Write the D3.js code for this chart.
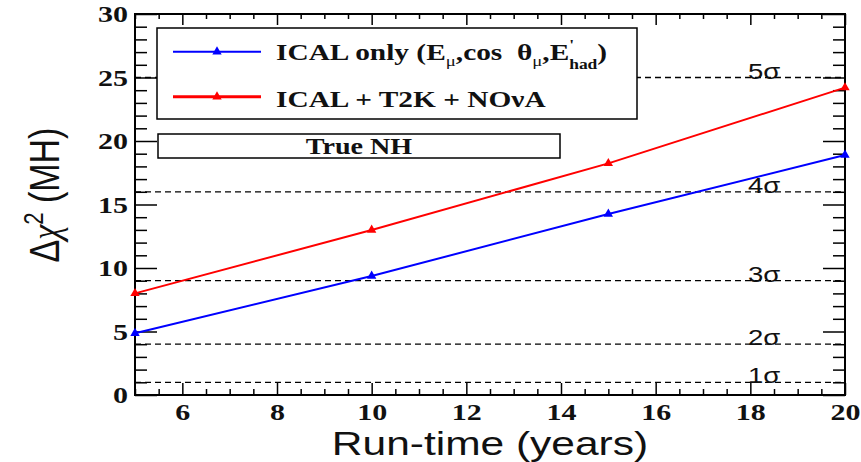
<!DOCTYPE html>
<html>
<head>
<meta charset="utf-8">
<title>Delta chi2 (MH) vs run-time</title>
<script src="https://d3js.org/d3.v7.min.js"></script>
<style>
  body { margin: 0; background: #fff; }
  .axis path { display: none; }
  .axis line { stroke: #000; stroke-width: 1.5; }
</style>
</head>
<body>
<svg id="chart" width="861" height="462"></svg>
<script>
// values
var runTime = [5, 10, 15, 20];
var icalOnly = [4.86, 9.37, 14.25, 18.9];
var icalT2kNova = [8.0, 12.99, 18.24, 24.2];
var sigmaLevels = [1, 2, 3, 4, 5];
var xTicks = [6, 8, 10, 12, 14, 16, 18, 20];
var yTicks = [0, 5, 10, 15, 20, 25, 30];
var seriesColors = ["#0000ff", "#ff0000"];

var m = {left: 135, right: 845, top: 14, bottom: 395};
var sx = 1.25; // the original is stretched sideways, so text is too

var svg = d3.select("#chart");

var x = d3.scaleLinear().domain([5, 20]).range([m.left, m.right]);
var y = d3.scaleLinear().domain([0, 30]).range([m.bottom, m.top]);

var xMinor = d3.range(5, 20.01, 0.5).filter(function(d){ return d % 2 !== 0; });
var yMinor = d3.range(0, 31, 1).filter(function(d){ return d % 5 !== 0; });

function tickFont(sel){
    sel.style("font-family", "'Liberation Serif', 'Times New Roman', serif")
       .style("font-weight", "bold")
       .style("font-size", "24px")
       .attr("fill", "#111");
}

// dashed n-sigma lines (delta chi2 = n^2)
svg.append("g").selectAll("line")
    .data(sigmaLevels)
    .enter().append("line")
    .attr("x1", x(5)).attr("x2", x(20))
    .attr("y1", function(d){ return y(d * d); })
    .attr("y2", function(d){ return y(d * d); })
    .attr("stroke", "#000")
    .attr("stroke-width", 1.3)
    .attr("stroke-dasharray", "6,4");

svg.append("g").selectAll("g")
    .data(sigmaLevels)
    .enter().append("g")
    .attr("transform", function(d){ return "translate(" + x(17.95) + "," + (y(d * d) + 1) + ") scale(" + sx + ",1)"; })
    .append("text")
    .style("font-family", "'Liberation Sans', Arial, sans-serif")
    .style("font-size", "22px")
    .attr("fill", "#111")
    .text(function(d){ return d + "σ"; });

// axes: bottom / left with labels, top / right without
var gx = svg.append("g").attr("class", "axis")
    .attr("transform", "translate(0," + m.bottom + ")")
    .call(d3.axisBottom(x).tickValues(xTicks).tickSize(-12).tickPadding(8));
gx.selectAll("text").call(tickFont).attr("transform", "scale(" + sx + ",1)");
svg.append("g").attr("class", "axis")
    .attr("transform", "translate(0," + m.bottom + ")")
    .call(d3.axisBottom(x).tickValues(xMinor).tickSize(-6).tickFormat(""));

svg.append("g").attr("class", "axis")
    .attr("transform", "translate(0," + m.top + ")")
    .call(d3.axisBottom(x).tickValues(xTicks).tickSize(11).tickFormat(""));
svg.append("g").attr("class", "axis")
    .attr("transform", "translate(0," + m.top + ")")
    .call(d3.axisBottom(x).tickValues(xMinor).tickSize(5).tickFormat(""));

var gy = svg.append("g").attr("class", "axis")
    .attr("transform", "translate(" + m.left + ",0)")
    .call(d3.axisLeft(y).tickValues(yTicks).tickSize(-22).tickPadding(7));
gy.selectAll("text").call(tickFont).attr("x", -7 / sx).attr("transform", "scale(" + sx + ",1)");
svg.append("g").attr("class", "axis")
    .attr("transform", "translate(" + m.left + ",0)")
    .call(d3.axisLeft(y).tickValues(yMinor).tickSize(-12).tickFormat(""));

svg.append("g").attr("class", "axis")
    .attr("transform", "translate(" + m.right + ",0)")
    .call(d3.axisRight(y).tickValues(yTicks).tickSize(-22).tickFormat(""));
svg.append("g").attr("class", "axis")
    .attr("transform", "translate(" + m.right + ",0)")
    .call(d3.axisRight(y).tickValues(yMinor).tickSize(-12).tickFormat(""));

// frame
svg.append("rect")
    .attr("x", m.left).attr("y", m.top)
    .attr("width", m.right - m.left).attr("height", m.bottom - m.top)
    .attr("fill", "none").attr("stroke", "#000").attr("stroke-width", 2);

// series
var line = d3.line()
    .x(function(d){ return x(d[0]); })
    .y(function(d){ return y(d[1]); });
var tri = d3.symbol().type(d3.symbolTriangle).size(38);

[icalOnly, icalT2kNova].forEach(function(vals, i){
    var pts = runTime.map(function(t, j){ return [t, vals[j]]; });
    svg.append("path")
        .datum(pts)
        .attr("d", line)
        .attr("fill", "none")
        .attr("stroke", seriesColors[i])
        .attr("stroke-width", 2);
    svg.append("g").selectAll("path")
        .data(pts)
        .enter().append("path")
        .attr("d", tri)
        .attr("transform", function(d){ return "translate(" + x(d[0]) + "," + y(d[1]) + ")"; })
        .attr("fill", seriesColors[i]);
});

// legend
var leg = svg.append("g");
leg.append("rect")
    .attr("x", 157).attr("y", 28).attr("width", 480).attr("height", 91)
    .attr("fill", "#fff").attr("stroke", "#000").attr("stroke-width", 1.5);
[51.7, 96.7].forEach(function(ly, i){
    leg.append("line")
        .attr("x1", 173).attr("x2", 261).attr("y1", ly).attr("y2", ly)
        .attr("stroke", seriesColors[i]).attr("stroke-width", i === 0 ? 2 : 3);
    leg.append("path")
        .attr("d", tri)
        .attr("transform", "translate(217," + ly + ")")
        .attr("fill", seriesColors[i]);
});

function legText(ty){
    return leg.append("g")
        .attr("transform", "translate(276," + ty + ") scale(" + sx + ",1)")
        .append("text")
        .style("font-family", "'Liberation Serif', serif")
        .style("font-weight", "bold")
        .style("font-size", "23.5px")
        .style("white-space", "pre")
        .attr("fill", "#111");
}
var t1 = legText(60);
t1.append("tspan").text("ICAL only (E");
t1.append("tspan").attr("dy", 6).style("font-size", "15px").style("font-weight", "normal").text("μ");
t1.append("tspan").attr("dy", -6).text(",cos  θ");
t1.append("tspan").attr("dy", 6).style("font-size", "15px").style("font-weight", "normal").text("μ");
t1.append("tspan").attr("dy", -6).text(",E");
t1.append("tspan").attr("dy", -10).style("font-size", "14px").text("'");
t1.append("tspan").attr("dx", -4).attr("dy", 19).style("font-size", "14px").text("had");
t1.append("tspan").attr("dy", -9).text(")");

legText(106.7).text("ICAL + T2K + NOνA");

leg.append("rect")
    .attr("x", 158).attr("y", 134).attr("width", 402).attr("height", 24)
    .attr("fill", "#fff").attr("stroke", "#000").attr("stroke-width", 1.5);
leg.append("g")
    .attr("transform", "translate(359,154) scale(" + sx + ",1)")
    .append("text")
    .attr("text-anchor", "middle")
    .style("font-family", "'Liberation Serif', serif")
    .style("font-weight", "bold")
    .style("font-size", "22.5px")
    .attr("fill", "#111")
    .text("True NH");

// axis titles
svg.append("g")
    .attr("transform", "translate(" + ((m.left + m.right) / 2) + ",455) scale(" + sx + ",1)")
    .append("text")
    .attr("text-anchor", "middle")
    .style("font-family", "'Liberation Sans', Arial, sans-serif")
    .style("font-size", "34px")
    .attr("fill", "#111")
    .text("Run-time (years)");

var yt = svg.append("g")
    .attr("transform", "translate(59,195) scale(" + sx + ",1) rotate(-90)")
    .append("text")
    .attr("text-anchor", "middle")
    .style("font-family", "'Liberation Sans', Arial, sans-serif")
    .style("font-size", "34px")
    .attr("fill", "#111");
yt.append("tspan").text("Δ");
yt.append("tspan").style("font-family", "'Liberation Serif', serif").style("font-style", "italic").text("χ");
yt.append("tspan").attr("dy", -13).style("font-size", "22px").text("2");
yt.append("tspan").attr("dy", 13).text(" (MH)");
</script>
</body>
</html>
